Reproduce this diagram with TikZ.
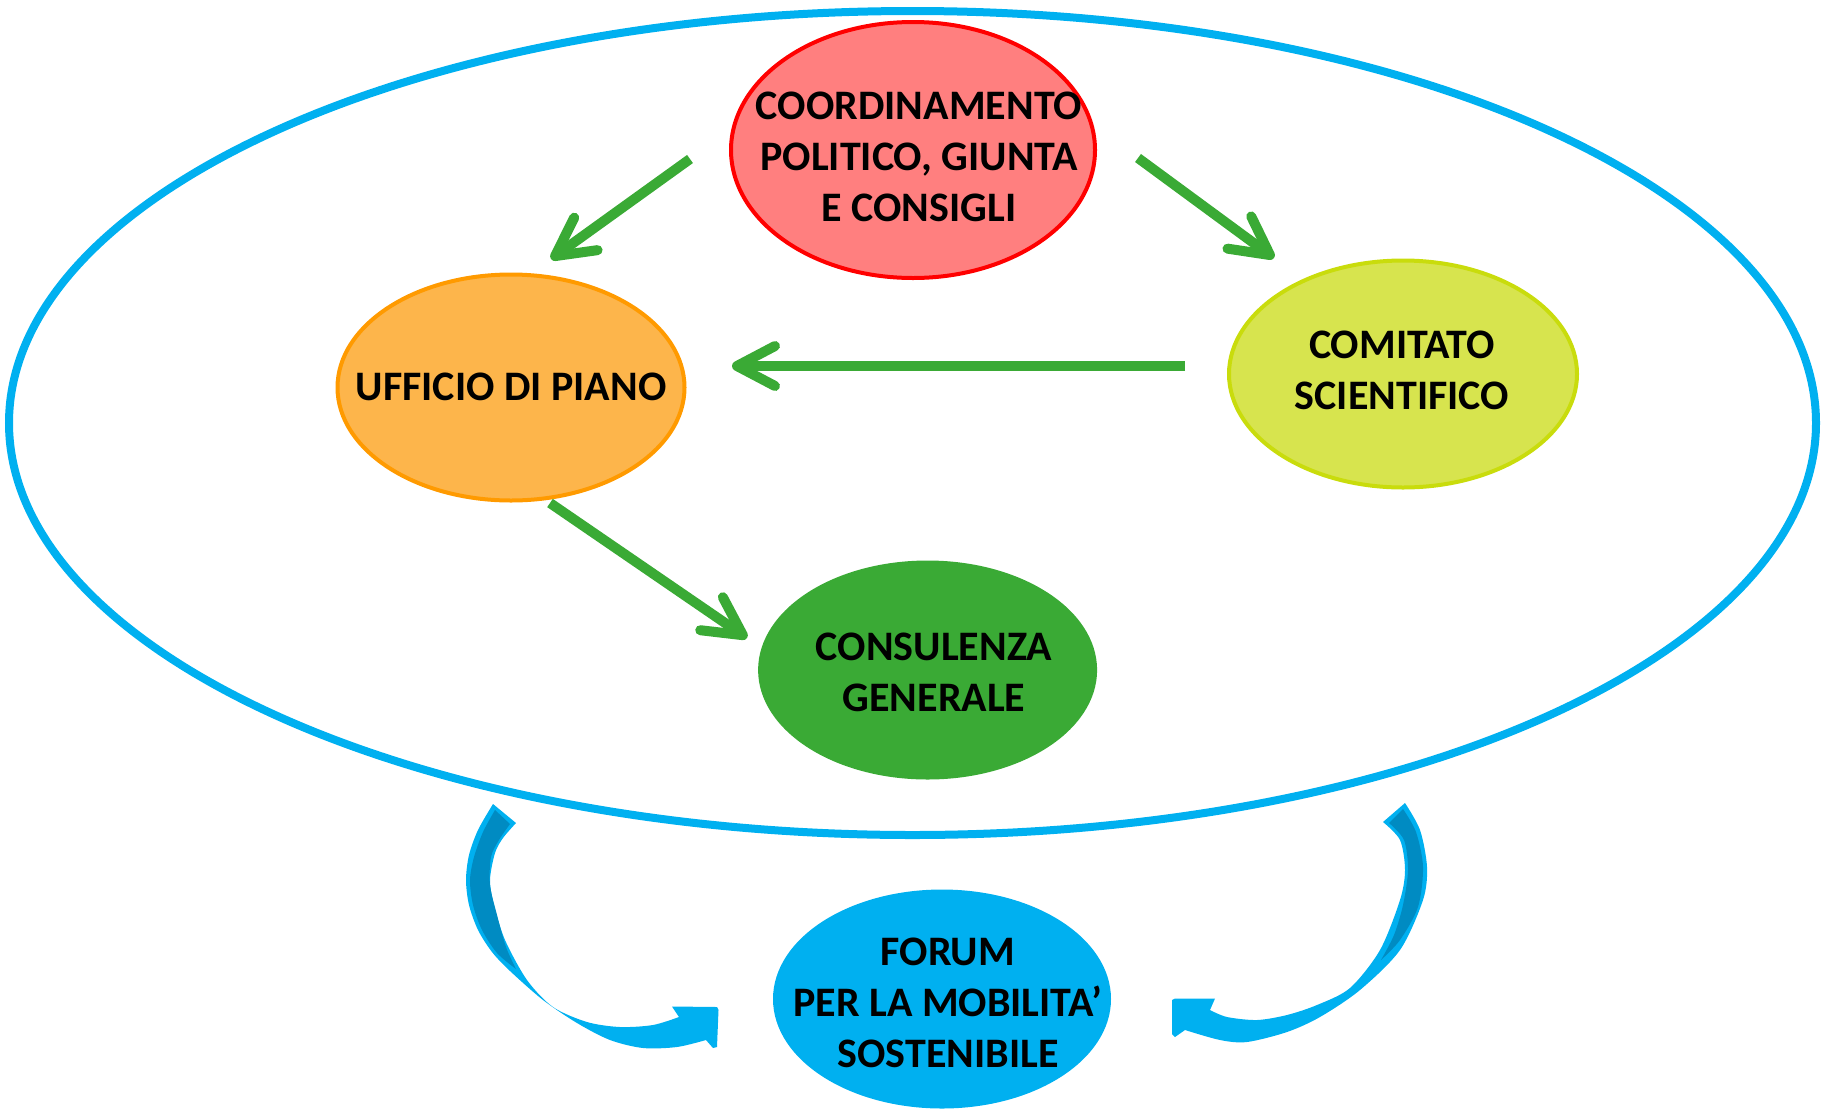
\documentclass[tikz,border=0pt]{standalone}
\usepackage{fontspec}
\setmainfont{Carlito}
\usetikzlibrary{shapes.geometric,arrows.meta}
\definecolor{cyanB}{HTML}{00B0F0}
\definecolor{cyanD}{HTML}{008BC2}
\definecolor{greenA}{HTML}{3AAA35}
\definecolor{redB}{HTML}{FF0000}
\definecolor{redF}{HTML}{FF7F7F}
\definecolor{orB}{HTML}{FF9A00}
\definecolor{orF}{HTML}{FDB54B}
\definecolor{ygB}{HTML}{C9DC0C}
\definecolor{ygF}{HTML}{D7E44E}
\begin{document}
\begin{tikzpicture}[x=1pt,y=-1pt,
  ell/.style={ellipse, inner sep=0pt, line width=4pt},
  lbl/.style={align=center, font=\fontsize{42}{51}\selectfont\bfseries, inner sep=0pt},
  garrow/.style={draw=greenA, line width=10pt, -{Straight Barb[length=38pt,width=40pt,line width=10pt,round]}},
]
\useasboundingbox (0,0) rectangle (1825,1109);

% outer ellipse
\node[ellipse, draw=cyanB, line width=8pt, inner sep=0pt, minimum width=1807pt, minimum height=824pt] (outer) at (912.5,423) {};

% ellipses
\node[ell, draw=redB, fill=redF, minimum width=364pt, minimum height=256pt] (coord) at (913,150) {};
\node[lbl] (coordT) at (919,157) {COORDINAMENTO\\POLITICO, GIUNTA\\E CONSIGLI};

\node[ell, draw=orB, fill=orF, minimum width=347pt, minimum height=226pt] (uff) at (511,387.5) {};
\node[lbl] (uffT) at (511,387) {UFFICIO DI PIANO};

\node[ell, draw=ygB, fill=ygF, minimum width=348pt, minimum height=227pt] (com) at (1403,374) {};
\node[lbl] (comT) at (1402,370) {COMITATO\\SCIENTIFICO};

\node[ell, draw=greenA, fill=greenA, minimum width=335pt, minimum height=215pt] (cons) at (927.6,670) {};
\node[lbl] (consT) at (934,672) {CONSULENZA\\GENERALE};

\node[ell, draw=cyanB, fill=cyanB, minimum width=334pt, minimum height=215pt] (forum) at (942,999) {};
\node[lbl] (forumT) at (948,1003) {FORUM\\PER LA MOBILITA’\\SOSTENIBILE};

% green arrows
\coordinate (a1s) at (690,159);
\coordinate (a1e) at (551,259);
\coordinate (a2s) at (1138,158);
\coordinate (a2e) at (1274,258);
\coordinate (a3s) at (1185,366);
\coordinate (a3e) at (732,366);
\coordinate (a4s) at (550,503);
\coordinate (a4e) at (747,638);
\draw[garrow] (a1s) -- (a1e);
\draw[garrow] (a2s) -- (a2e);
\draw[garrow] (a3s) -- (a3e);
\draw[garrow] (a4s) -- (a4e);

% left curved arrow
\fill[cyanB] plot[smooth] coordinates {(493,804) (478,830) (469,855) (466,880) (469,905) (478,930) (492,952) (510,971) (543,1000) (577,1023) (610,1040) (643,1048) (677,1047) (706,1040)}
  -- (713,1048) -- (717,1047) -- (718.5,1010) -- (717,1007) -- (672,1006.5) -- (679,1017)
  -- plot[smooth] coordinates {(679,1017) (653,1025) (620,1027) (587,1022) (553,1007) (527,980) (505,940) (494,905) (490,880) (495,853) (503,838) (516,823)} -- cycle;
\fill[cyanD] plot[smooth] coordinates {(495,810) (483,832) (474,857) (470,880) (473,905) (482,930) (497,953) (516,969)}
  -- plot[smooth] coordinates {(516,969) (506,947) (497,915) (490,885) (491,857) (499,840) (510,824)} -- cycle;

% right curved arrow
\fill[cyanB] plot[smooth] coordinates {(1405,803) (1420,830) (1427,867) (1423,900) (1400,950) (1360,990) (1320,1017) (1287,1032) (1247,1042) (1220,1040) (1185,1030)}
  -- (1175,1037) -- (1172,1034) -- (1172,1000) -- (1175,998.5) -- (1215,998.5) -- (1210,1010)
  -- plot[smooth] coordinates {(1210,1010) (1227,1017) (1257,1020) (1287,1015) (1317,1005) (1350,988) (1380,950) (1400,900) (1405,870) (1400,840) (1383,822)} -- cycle;
\fill[cyanD] plot[smooth] coordinates {(1403,809) (1416,832) (1423,867) (1418,907) (1400,940) (1381,960)}
  -- plot[smooth] coordinates {(1381,960) (1394,935) (1403,905) (1408,870) (1404,840) (1389,823)} -- cycle;
\end{tikzpicture}
\end{document}
